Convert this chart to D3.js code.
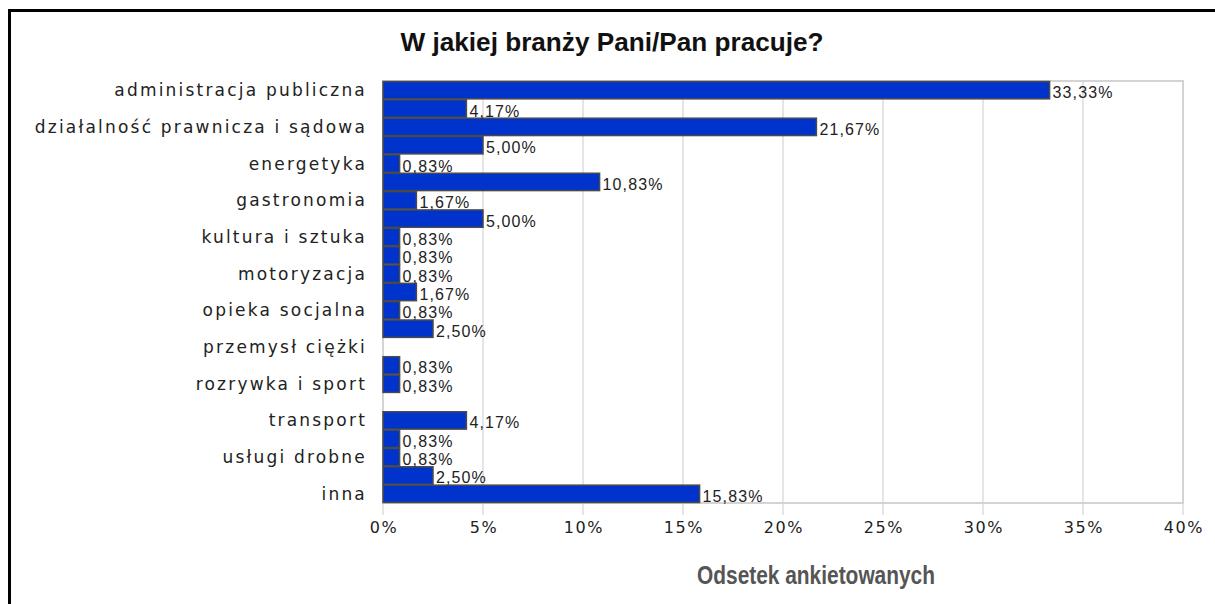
<!DOCTYPE html>
<html>
<head>
<meta charset="utf-8">
<script src="https://cdn.jsdelivr.net/npm/d3@7"></script>
<style>
  body { margin: 0; background: #fff; }
  svg { display: block; }
</style>
</head>
<body>
<div id="chart"></div>
<script>
// categories (only every second one gets a visible label, as in the original)
var categories = [
  "administracja publiczna", "budownictwo", "działalność prawnicza i sądowa", "edukacja",
  "energetyka", "finanse i ubezpieczenia", "gastronomia", "handel",
  "kultura i sztuka", "media", "motoryzacja", "ochrona zdrowia",
  "opieka socjalna", "produkcja", "przemysł ciężki", "rolnictwo",
  "rozrywka i sport", "telekomunikacja", "transport", "turystyka",
  "usługi drobne", "wojsko i policja", "inna"
];
var percents = [
  33.33, 4.17, 21.67, 5.00,
  0.83, 10.83, 1.67, 5.00,
  0.83, 0.83, 0.83, 1.67,
  0.83, 2.50, 0, 0.83,
  0.83, 0, 4.17, 0.83,
  0.83, 2.50, 15.83
];
var xTicks = [0, 5, 10, 15, 20, 25, 30, 35, 40];
var title = "W jakiej branży Pani/Pan pracuje?";
var xTitle = "Odsetek ankietowanych";

var W = 1215, H = 604;
var plot = { left: 383, top: 81, right: 1183, bottom: 503 };

var svg = d3.select("#chart").append("svg")
    .attr("width", W)
    .attr("height", H);

// outer frame (runs off the right/bottom edge)
svg.append("rect")
    .attr("x", 9.5).attr("y", 10.5)
    .attr("width", W + 50).attr("height", H + 50)
    .attr("fill", "none")
    .attr("stroke", "#000")
    .attr("stroke-width", 3);

var x = d3.scaleLinear().domain([0, 40]).range([plot.left, plot.right]);
var y = d3.scaleBand().domain(categories).range([plot.top, plot.bottom]).padding(0);

// grid + tick marks
svg.selectAll(".grid")
    .data(xTicks)
    .enter().append("line")
    .attr("class", "grid")
    .attr("x1", function(d) { return x(d); })
    .attr("x2", function(d) { return x(d); })
    .attr("y1", plot.top)
    .attr("y2", plot.bottom + 12)
    .attr("stroke", "#dcdcdc")
    .attr("stroke-width", 1.5);

// plot border
svg.append("rect")
    .attr("x", plot.left).attr("y", plot.top)
    .attr("width", plot.right - plot.left)
    .attr("height", plot.bottom - plot.top)
    .attr("fill", "none")
    .attr("stroke", "#d4d4d4")
    .attr("stroke-width", 2);

// bars
var rows = categories.map(function(c, i) { return { name: c, value: percents[i], i: i }; });

svg.selectAll(".bar")
    .data(rows.filter(function(d) { return d.value > 0; }))
    .enter().append("rect")
    .attr("class", "bar")
    .attr("x", x(0))
    .attr("y", function(d) { return y(d.name) + 0.5; })
    .attr("width", function(d) { return x(d.value) - x(0); })
    .attr("height", y.bandwidth() - 1)
    .attr("fill", "#0033cc")
    .attr("stroke", "#4a4a4a")
    .attr("stroke-width", 1.5);

// value labels
svg.selectAll(".val")
    .data(rows.filter(function(d) { return d.value > 0; }))
    .enter().append("text")
    .attr("class", "val")
    .attr("x", function(d) { return x(d.value) + 3; })
    .attr("y", function(d) { return y(d.name) + y.bandwidth() / 2 + 8; })
    .attr("font-family", "'Liberation Sans', Arial, sans-serif")
    .attr("font-size", 16)
    .attr("letter-spacing", 1.1)
    .attr("fill", "#222")
    .text(function(d) { return d3.format(".2f")(d.value).replace(".", ",") + "%"; });

// category labels, every second one
svg.selectAll(".cat")
    .data(rows.filter(function(d) { return d.i % 2 === 0; }))
    .enter().append("text")
    .attr("class", "cat")
    .attr("x", plot.left - 16)
    .attr("y", function(d) { return y(d.name) + y.bandwidth() / 2; })
    .attr("dy", "0.35em")
    .attr("text-anchor", "end")
    .attr("font-family", "'DejaVu Sans', sans-serif")
    .attr("font-size", 17)
    .attr("letter-spacing", 2.2)
    .attr("fill", "#222")
    .text(function(d) { return d.name; });

// x tick labels
svg.selectAll(".tick-label")
    .data(xTicks)
    .enter().append("text")
    .attr("class", "tick-label")
    .attr("x", function(d) { return x(d) + 1; })
    .attr("y", 533)
    .attr("text-anchor", "middle")
    .attr("font-family", "'DejaVu Sans', sans-serif")
    .attr("font-size", 16)
    .attr("letter-spacing", 1.6)
    .attr("fill", "#222")
    .text(function(d) { return d + "%"; });

// titles
svg.append("text")
    .attr("x", 612)
    .attr("y", 51)
    .attr("text-anchor", "middle")
    .attr("font-family", "'Liberation Sans', Arial, sans-serif")
    .attr("font-weight", "bold")
    .attr("font-size", 25)
    .attr("textLength", 423)
    .attr("lengthAdjust", "spacingAndGlyphs")
    .attr("fill", "#111")
    .text(title);

svg.append("text")
    .attr("x", (plot.left + plot.right) / 2 + 33)
    .attr("y", 584)
    .attr("text-anchor", "middle")
    .attr("font-family", "'Liberation Sans', Arial, sans-serif")
    .attr("font-weight", "bold")
    .attr("font-size", 25)
    .attr("textLength", 238)
    .attr("lengthAdjust", "spacingAndGlyphs")
    .attr("fill", "#555")
    .text(xTitle);
</script>
</body>
</html>
